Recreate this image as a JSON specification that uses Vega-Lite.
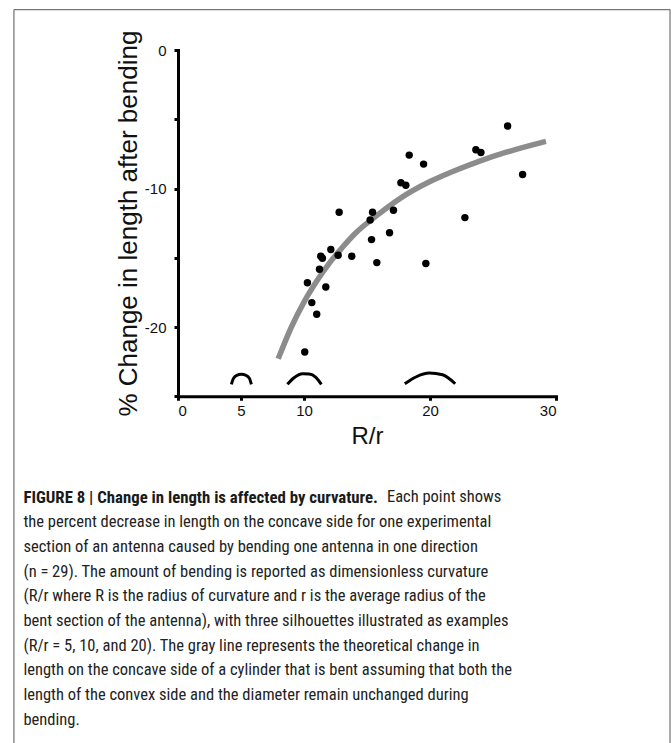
{
  "$schema": "https://vega.github.io/schema/vega-lite/v6.json",
  "width": 378,
  "height": 346.25,
  "padding": {"left": 13, "top": 9, "right": 0, "bottom": 0},
  "background": "white",
  "config": {
    "view": {"stroke": null},
    "axis": {
      "grid": false,
      "domainColor": "black",
      "domainWidth": 3,
      "domainCap": "square",
      "tickColor": "black",
      "tickWidth": 3,
      "tickSize": 4,
      "labelFont": "Liberation Sans",
      "labelFontSize": 15,
      "labelColor": "#111",
      "titleFont": "Liberation Sans",
      "titleFontSize": 24,
      "titleFontWeight": "normal",
      "titleColor": "#111"
    }
  },
  "title": {
    "text": "FIGURE 8 | Change in length is affected by curvature.",
    "subtitle": [
      "\u200b\u00a0\u00a0\u00a0\u00a0\u00a0\u00a0\u00a0\u00a0\u00a0\u00a0\u00a0\u00a0\u00a0\u00a0\u00a0\u00a0\u00a0\u00a0\u00a0\u00a0\u00a0\u00a0\u00a0\u00a0\u00a0\u00a0\u00a0\u00a0\u00a0\u00a0\u00a0\u00a0\u00a0\u00a0\u00a0\u00a0\u00a0\u00a0\u00a0\u00a0\u00a0\u00a0\u00a0\u00a0\u00a0\u00a0\u00a0\u00a0\u00a0\u00a0\u00a0\u00a0\u00a0\u00a0\u00a0\u00a0\u00a0\u00a0\u00a0\u00a0\u00a0\u00a0\u00a0\u00a0\u00a0\u00a0\u00a0\u00a0\u00a0\u00a0\u00a0\u00a0\u00a0\u00a0\u00a0\u00a0\u00a0\u00a0\u00a0\u00a0\u00a0\u00a0\u00a0\u00a0\u00a0\u00a0\u00a0\u00a0\u00a0\u00a0\u00a0\u00a0\u00a0\u00a0\u00a0\u00a0Each point shows",
      "the percent decrease in length on the concave side for one experimental",
      "section of an antenna caused by bending one antenna in one direction",
      "(n = 29). The amount of bending is reported as dimensionless curvature",
      "(R/r where R is the radius of curvature and r is the average radius of the",
      "bent section of the antenna), with three silhouettes illustrated as examples",
      "(R/r = 5, 10, and 20). The gray line represents the theoretical change in",
      "length on the concave side of a cylinder that is bent assuming that both the",
      "length of the convex side and the diameter remain unchanged during",
      "bending."
    ],
    "orient": "bottom",
    "anchor": "start",
    "frame": "bounds",
    "dx": 10,
    "offset": -257,
    "baseline": "top",
    "font": "Roboto Condensed",
    "fontSize": 16.8,
    "fontWeight": "bold",
    "color": "#1a1a1a",
    "lineHeight": 24.7,
    "subtitleFont": "Roboto Condensed",
    "subtitleFontSize": 16.5,
    "subtitleFontWeight": "normal",
    "subtitleColor": "#222",
    "subtitleLineHeight": 24.7,
    "subtitlePadding": -17.5
  },
  "encoding": {
    "x": {
      "field": "x",
      "type": "quantitative",
      "scale": {"domain": [0, 30], "nice": false, "zero": false},
      "axis": {
        "title": "R/r",
        "values": [0, 5, 10, 20, 30],
        "labelPadding": 3,
        "titlePadding": 6
      }
    },
    "y": {
      "field": "y",
      "type": "quantitative",
      "scale": {"domain": [-25, 0], "nice": false, "zero": false},
      "axis": {
        "title": "% Change in length after bending",
        "titleFontSize": 26,
        "values": [0, -5, -10, -15, -20, -25],
        "labelExpr": "datum.value % 10 === 0 ? replace(datum.label, '\u2212', '-') : ''",
        "labelPadding": 8,
        "titlePadding": 3
      }
    }
  },
  "layer": [
    {
      "data": {"values": [{"left": -13.02, "right": 39.05, "top": 2.91, "bottom": -50.3}]},
      "mark": {"type": "rect", "filled": false, "color": "#555555", "strokeWidth": 1},
      "encoding": {
        "x": {"field": "left", "type": "quantitative"},
        "x2": {"field": "right"},
        "y": {"field": "top", "type": "quantitative"},
        "y2": {"field": "bottom"}
      }
    },
    {
      "data": {"values": [
        {"x": 7.95, "y": -22.3},
        {"x": 9, "y": -20.0},
        {"x": 10, "y": -18.2},
        {"x": 11, "y": -16.7},
        {"x": 12, "y": -15.4},
        {"x": 13, "y": -14.3},
        {"x": 14, "y": -13.3},
        {"x": 16, "y": -11.8},
        {"x": 18, "y": -10.5},
        {"x": 20, "y": -9.5},
        {"x": 22, "y": -8.7},
        {"x": 24, "y": -8.0},
        {"x": 26, "y": -7.4},
        {"x": 29.2, "y": -6.6}
      ]},
      "mark": {"type": "line", "color": "#8c8c8c", "strokeWidth": 5.5, "strokeCap": "butt", "interpolate": "monotone"}
    },
    {
      "data": {"values": [
        {"arc": "5", "k": 1, "x": 4.24, "y": -24.14},
        {"arc": "5", "k": 2, "x": 4.40, "y": -23.71},
        {"arc": "5", "k": 3, "x": 4.66, "y": -23.49},
        {"arc": "5", "k": 4, "x": 5.03, "y": -23.42},
        {"arc": "5", "k": 5, "x": 5.40, "y": -23.49},
        {"arc": "5", "k": 6, "x": 5.67, "y": -23.71},
        {"arc": "5", "k": 7, "x": 5.82, "y": -24.14},
        {"arc": "10", "k": 1, "x": 8.68, "y": -24.14},
        {"arc": "10", "k": 2, "x": 9.21, "y": -23.66},
        {"arc": "10", "k": 3, "x": 9.88, "y": -23.37},
        {"arc": "10", "k": 4, "x": 10.41, "y": -23.39},
        {"arc": "10", "k": 5, "x": 10.94, "y": -23.63},
        {"arc": "10", "k": 6, "x": 11.38, "y": -24.14},
        {"arc": "20", "k": 1, "x": 18.0, "y": -24.1},
        {"arc": "20", "k": 2, "x": 18.88, "y": -23.61},
        {"arc": "20", "k": 3, "x": 19.94, "y": -23.33},
        {"arc": "20", "k": 4, "x": 21.0, "y": -23.45},
        {"arc": "20", "k": 5, "x": 22.0, "y": -24.1}
      ]},
      "mark": {"type": "line", "color": "black", "strokeWidth": 3, "interpolate": "monotone"},
      "encoding": {
        "detail": {"field": "arc"},
        "order": {"field": "k", "type": "quantitative"}
      }
    },
    {
      "data": {"values": [
        {"x": 26.16, "y": -5.49},
        {"x": 23.64, "y": -7.2},
        {"x": 24.04, "y": -7.4},
        {"x": 18.35, "y": -7.59},
        {"x": 19.49, "y": -8.24},
        {"x": 27.35, "y": -8.99},
        {"x": 17.69, "y": -9.59},
        {"x": 18.08, "y": -9.76},
        {"x": 12.79, "y": -11.71},
        {"x": 15.44, "y": -11.71},
        {"x": 17.10, "y": -11.57},
        {"x": 15.25, "y": -12.27},
        {"x": 22.77, "y": -12.10},
        {"x": 16.79, "y": -13.2},
        {"x": 15.36, "y": -13.69},
        {"x": 12.13, "y": -14.41},
        {"x": 11.33, "y": -14.89},
        {"x": 11.46, "y": -15.04},
        {"x": 12.71, "y": -14.82},
        {"x": 13.79, "y": -14.89},
        {"x": 15.78, "y": -15.35},
        {"x": 19.67, "y": -15.42},
        {"x": 11.23, "y": -15.83},
        {"x": 10.27, "y": -16.8},
        {"x": 11.73, "y": -17.11},
        {"x": 10.62, "y": -18.24},
        {"x": 11.01, "y": -19.08},
        {"x": 10.06, "y": -21.81}
      ]},
      "mark": {"type": "circle", "color": "black", "opacity": 1, "size": 55}
    }
  ]
}
